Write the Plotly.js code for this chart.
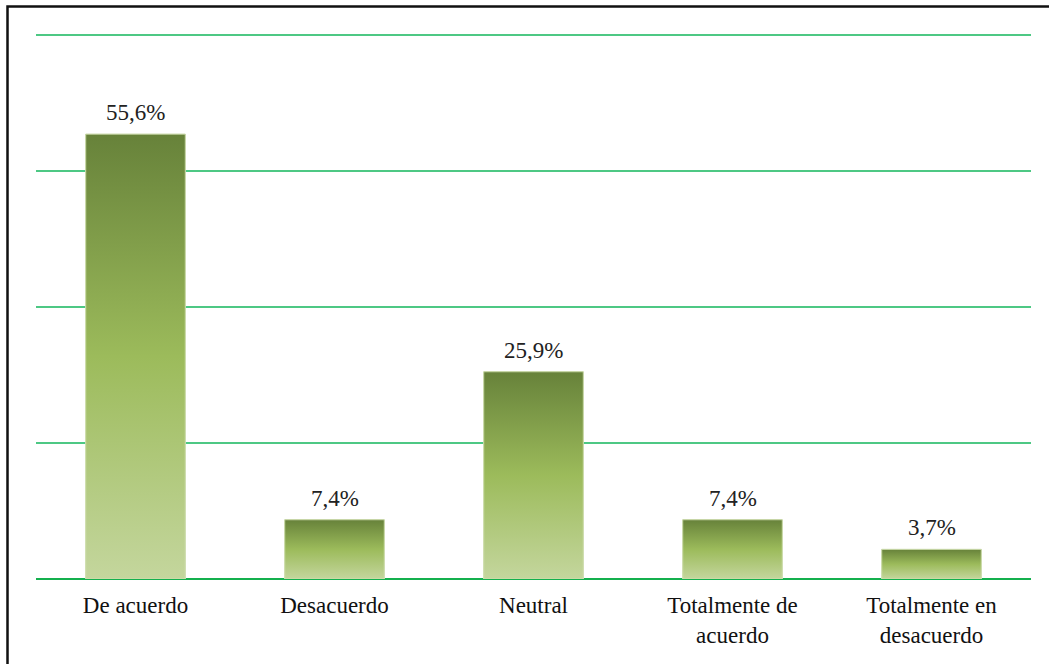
<!DOCTYPE html>
<html>
<head>
<meta charset="utf-8">
<script src="https://cdn.plot.ly/plotly-3.0.1.min.js"></script>
<style>
html,body{margin:0;padding:0;background:#fff;}
#chart{width:1049px;height:664px;}
</style>
</head>
<body>
<div id="chart"></div>
<script>
// Data
const categories = ['De acuerdo', 'Desacuerdo', 'Neutral', 'Totalmente de<br>acuerdo', 'Totalmente en<br>desacuerdo'];
const values = [55.6, 7.4, 25.9, 7.4, 3.7];
const valueLabels = ['55,6%', '7,4%', '25,9%', '7,4%', '3,7%'];

const positions = categories.map((c, i) => i);
const halfWidth = 0.25;
const serif = 'Liberation Serif';

const traces = [];
traces.push({
  type: 'bar',
  x: positions,
  y: values,
  width: halfWidth * 2,
  marker: {color: '#9bbb59', line: {color: '#c9daa6', width: 1}},
  hoverinfo: 'y',
  showlegend: false
});
values.forEach((v, i) => {
  traces.push({
    type: 'scatter',
    mode: 'lines',
    x: [i - halfWidth, i + halfWidth, i + halfWidth, i - halfWidth, i - halfWidth],
    y: [0, 0, v, v, 0],
    fill: 'toself',
    fillgradient: {
      type: 'vertical',
      colorscale: [[0, '#c4d69d'], [0.5, '#9cbb5b'], [1, '#67823a']]
    },
    line: {color: '#d3e1b6', width: 0.8},
    hoverinfo: 'skip',
    showlegend: false
  });
});

const annotations = values.map((v, i) => ({
  x: positions[i], y: v, xref: 'x', yref: 'y',
  text: valueLabels[i],
  showarrow: false,
  yanchor: 'bottom',
  yshift: 7,
  font: {family: serif, size: 23, color: '#222'}
}));

const layout = {
  width: 1049,
  height: 664,
  margin: {l: 36, r: 18, t: 33, b: 85},
  paper_bgcolor: '#ffffff',
  plot_bgcolor: '#ffffff',
  showlegend: false,
  font: {family: serif},
  xaxis: {
    type: 'linear',
    range: [-0.5, 4.5],
    tickvals: positions,
    ticktext: categories,
    showgrid: false,
    zeroline: false,
    showline: false,
    ticks: '',
    ticklabelstandoff: 10,
    tickfont: {family: serif, size: 23, color: '#111'},
    fixedrange: true
  },
  yaxis: {
    range: [0, 68.25],
    dtick: 17,
    tick0: 0,
    showticklabels: false,
    gridcolor: '#4dc884',
    gridwidth: 2,
    zeroline: true,
    zerolinecolor: '#14b04e',
    zerolinewidth: 2.5,
    showline: false,
    ticks: '',
    fixedrange: true
  },
  annotations: annotations,
  shapes: [{
    type: 'rect', xref: 'paper', yref: 'paper',
    x0: (7.5 - 36) / 995, x1: 1.05,
    y0: -0.3, y1: 1 + (33 - 6.5) / 546,
    line: {color: '#111', width: 2.5},
    fillcolor: 'rgba(0,0,0,0)',
    layer: 'above'
  }]
};

Plotly.newPlot('chart', traces, layout, {displayModeBar: false, staticPlot: true});
</script>
</body>
</html>
